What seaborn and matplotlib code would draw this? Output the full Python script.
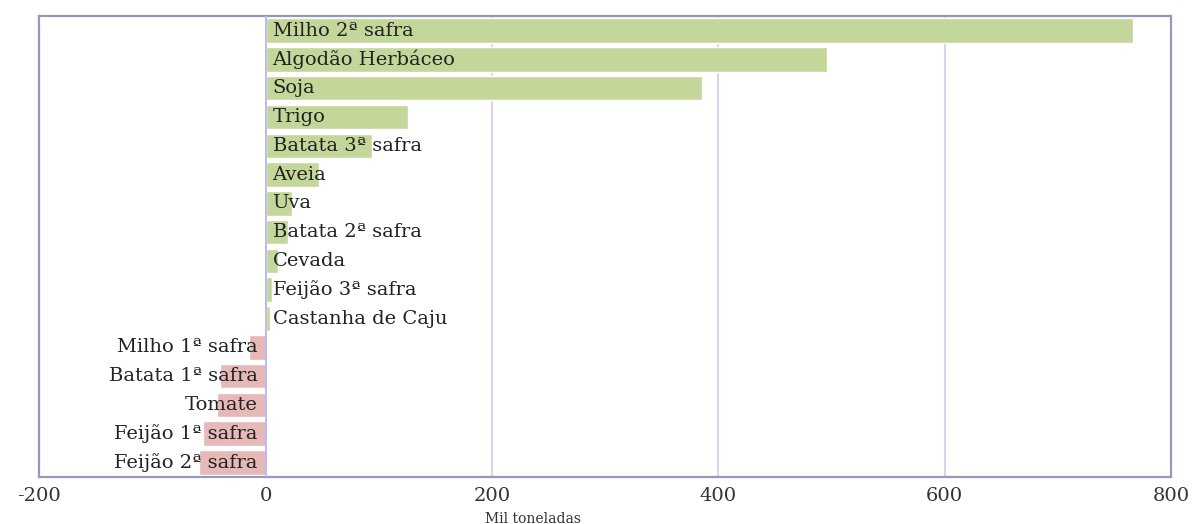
import matplotlib
matplotlib.use("Agg")
import matplotlib.pyplot as plt
import seaborn as sns
import pandas as pd

categories = ["Milho 2ª safra", "Algodão Herbáceo", "Soja", "Trigo", "Batata 3ª safra",
              "Aveia", "Uva", "Batata 2ª safra", "Cevada", "Feijão 3ª safra",
              "Castanha de Caju", "Milho 1ª safra", "Batata 1ª safra", "Tomate",
              "Feijão 1ª safra", "Feijão 2ª safra"]
values = [766.6, 496, 386, 125.5, 93.7, 46.9, 23, 19.5, 10.6, 5.3, 3.5,
          -15, -40.7, -43.3, -55.7, -59.2]
x_ticks = [-200, 0, 200, 400, 600, 800]
x_label = "Mil toneladas"

df = pd.DataFrame({"cat": categories, "val": values})
df["sign"] = ["pos" if v >= 0 else "neg" for v in values]

sns.set_theme(style="white")
plt.rcParams["font.family"] = ["DejaVu Serif"]

fig, ax = plt.subplots(figsize=(11.96, 5.24), dpi=100)
fig.subplots_adjust(left=0.033, right=0.979, top=0.969, bottom=0.09)

sns.barplot(data=df, y="cat", x="val", hue="sign", orient="h",
            palette={"pos": "#c4d79b", "neg": "#e6b8b7"}, dodge=False,
            width=0.85, legend=False, ax=ax, saturation=1)

ax.set_xlim(-200, 800)
ax.set_ylim(len(categories) - 0.5, -0.5)
ax.set_xticks(x_ticks)
ax.set_xticklabels([str(t) for t in x_ticks], fontsize=14, color="#333333")
ax.tick_params(axis="x", length=0, pad=7)
ax.set_yticks([])
ax.set_ylabel("")
ax.set_xlabel(x_label, fontsize=10, color="#333333")
ax.xaxis.set_label_coords(0.436, -0.077)

for t in x_ticks[1:-1]:
    ax.axvline(t, color="#c8c8f2", lw=1.1, zorder=0)
ax.axvline(0, color="#b8b8ee", lw=1.3, zorder=3)

for i, (c, v) in enumerate(zip(categories, values)):
    if v >= 0:
        ax.text(6, i, c, ha="left", va="center", fontsize=14, color="#222222", zorder=4)
    else:
        ax.text(-7, i, c, ha="right", va="center", fontsize=14, color="#222222", zorder=4)

for s in ax.spines.values():
    s.set_visible(True)
    s.set_color("#9898b8")
    s.set_linewidth(1.6)

fig.savefig("out.png", dpi=100)
